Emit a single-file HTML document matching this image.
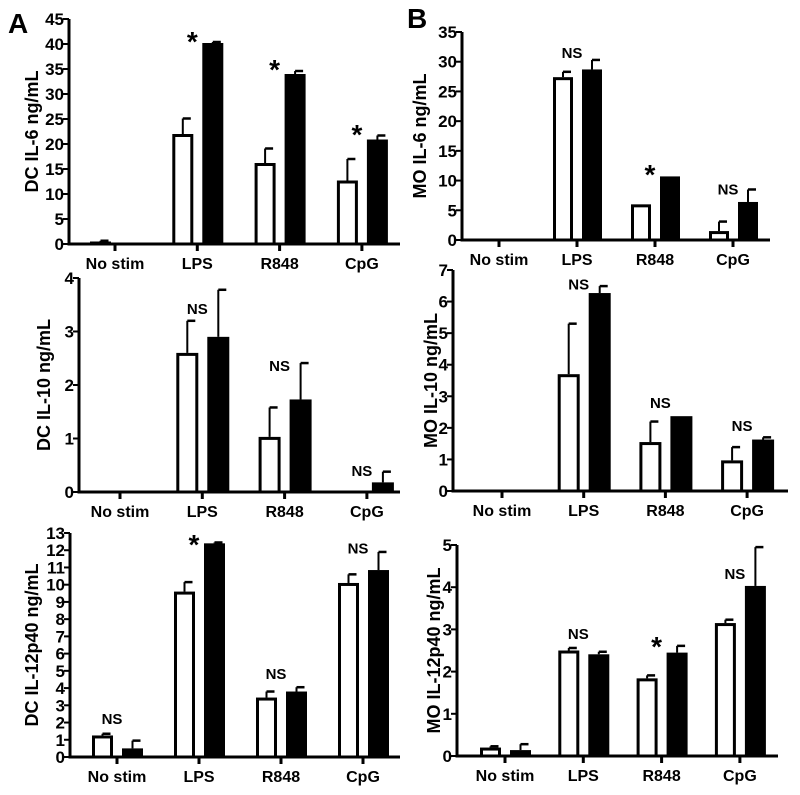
<!DOCTYPE html>
<html><head><meta charset="utf-8"><style>
html,body{margin:0;padding:0;background:#fff;}
svg{display:block;font-family:"Liberation Sans",Arial,sans-serif;}
</style></head><body>
<svg id="chart" width="800" height="795" viewBox="0 0 800 795">
<text x="8" y="33" font-size="28" font-weight="bold">A</text>
<text x="407" y="28" font-size="28" font-weight="bold">B</text>
</svg>
<script>
const categories = ["No stim","LPS","R848","CpG"];
// DC IL-6
const dcIl6White = [0.5,22,16.2,12.7];
const dcIl6WhiteErr = [0.15,3.1,2.9,4.3];
const dcIl6Black = [0,40.2,34,20.9];
const dcIl6BlackErr = [0,0.2,0.6,0.8];
const dcIl6Sig = ["","*","*","*"];
const dcIl6SigLevel = [0,41.4,35.8,22.8];
const dcIl6Ticks = [0,5,10,15,20,25,30,35,40,45];
// DC IL-10
const dcIl10White = [0,2.6,1.03,0];
const dcIl10WhiteErr = [0,0.6,0.55,0];
const dcIl10Black = [0,2.9,1.73,0.18];
const dcIl10BlackErr = [0,0.88,0.68,0.2];
const dcIl10Sig = ["","NS","NS","NS"];
const dcIl10SigLevel = [0,3.44,2.37,0.41];
const dcIl10Ticks = [0,1,2,3,4];
// DC IL-12p40
const dcIl12White = [1.25,9.6,3.45,10.1];
const dcIl12WhiteErr = [0.1,0.55,0.35,0.5];
const dcIl12Black = [0.5,12.4,3.8,10.85];
const dcIl12BlackErr = [0.45,0.05,0.25,1.05];
const dcIl12Sig = ["NS","*","NS","NS"];
const dcIl12SigLevel = [2.27,12.6,4.88,12.15];
const dcIl12Ticks = [0,1,2,3,4,5,6,7,8,9,10,11,12,13];
// MO IL-6
const moIl6White = [0,27.4,6.0,1.5];
const moIl6WhiteErr = [0,0.9,0,1.6];
const moIl6Black = [0,28.7,10.7,6.4];
const moIl6BlackErr = [0,1.6,0,2.1];
const moIl6Sig = ["","NS","*","NS"];
const moIl6SigLevel = [0,31.6,11.8,8.7];
const moIl6Ticks = [0,5,10,15,20,25,30,35];
// MO IL-10
const moIl10White = [0.04,3.7,1.55,0.97];
const moIl10WhiteErr = [0,1.6,0.65,0.42];
const moIl10Black = [0.02,6.27,2.37,1.63];
const moIl10BlackErr = [0,0.22,0,0.07];
const moIl10Sig = ["","NS","NS","NS"];
const moIl10SigLevel = [0,6.58,2.82,2.09];
const moIl10Ticks = [0,1,2,3,4,5,6,7];
// MO IL-12p40
const moIl12White = [0.2,2.5,1.84,3.15];
const moIl12WhiteErr = [0.03,0.06,0.07,0.08];
const moIl12Black = [0.14,2.41,2.45,4.03];
const moIl12BlackErr = [0.14,0.06,0.16,0.92];
const moIl12Sig = ["","NS","*","NS"];
const moIl12SigLevel = [0,2.91,2.7,4.34];
const moIl12Ticks = [0,1,2,3,4,5];

const NS="http://www.w3.org/2000/svg";
const svg=document.getElementById('chart');
function mk(tag,attrs,parent){const e=document.createElementNS(NS,tag);for(const k in attrs)e.setAttribute(k,attrs[k]);(parent||svg).appendChild(e);return e;}

const panels=[
 {id:"dc-il6",title:"DC IL-6 ng/mL",ax:69,top:19,base:244,right:400,cx0:115,step:82.3,bw:21,tx:31,w:dcIl6White,we:dcIl6WhiteErr,b:dcIl6Black,be:dcIl6BlackErr,sig:dcIl6Sig,sl:dcIl6SigLevel,ticks:dcIl6Ticks},
 {id:"dc-il10",title:"DC IL-10 ng/mL",ax:79,top:278,base:492,right:400,cx0:120,step:82.3,bw:22,tx:43,w:dcIl10White,we:dcIl10WhiteErr,b:dcIl10Black,be:dcIl10BlackErr,sig:dcIl10Sig,sl:dcIl10SigLevel,ticks:dcIl10Ticks},
 {id:"dc-il12p40",title:"DC IL-12p40 ng/mL",ax:70,top:533,base:757,right:400,cx0:117,step:82,bw:21,tx:31,w:dcIl12White,we:dcIl12WhiteErr,b:dcIl12Black,be:dcIl12BlackErr,sig:dcIl12Sig,sl:dcIl12SigLevel,ticks:dcIl12Ticks},
 {id:"mo-il6",title:"MO IL-6 ng/mL",ax:462,top:32,base:240,right:770,cx0:499,step:78,bw:20,tx:419,w:moIl6White,we:moIl6WhiteErr,b:moIl6Black,be:moIl6BlackErr,sig:moIl6Sig,sl:moIl6SigLevel,ticks:moIl6Ticks},
 {id:"mo-il10",title:"MO IL-10 ng/mL",ax:453,top:270,base:491,right:788,cx0:502,step:81.7,bw:22,tx:430,w:moIl10White,we:moIl10WhiteErr,b:moIl10Black,be:moIl10BlackErr,sig:moIl10Sig,sl:moIl10SigLevel,ticks:moIl10Ticks},
 {id:"mo-il12p40",title:"MO IL-12p40 ng/mL",ax:457,top:545,base:756,right:778,cx0:505,step:78.3,bw:21,tx:433,w:moIl12White,we:moIl12WhiteErr,b:moIl12Black,be:moIl12BlackErr,sig:moIl12Sig,sl:moIl12SigLevel,ticks:moIl12Ticks}
];

panels.forEach(p=>{
 const g=mk('g',{});
 
 
 const maxT=p.ticks[p.ticks.length-1];
 const y=v=>p.base-(v/maxT)*(p.base-p.top);
 const cx=i=>p.cx0+i*p.step;
 const ya=mk('line',{x1:p.ax,y1:p.top,x2:p.ax,y2:p.base+1.5,stroke:'#000','stroke-width':3},g);
 
 
 p.ticks.forEach(t=>{
  mk('line',{x1:p.ax-6,y1:y(t),x2:p.ax,y2:y(t),stroke:'#000','stroke-width':2},g);
  const tl=mk('text',{x:p.ax-5,y:y(t)+6,'text-anchor':'end','font-size':17,'font-weight':'bold'},g);
  tl.textContent=t;
  
  
 });
 const my=(p.top+p.base)/2;
 const yt=mk('text',{x:p.tx,y:my,'text-anchor':'middle','font-size':18,'font-weight':'bold',transform:`rotate(-90 ${p.tx} ${my})`,dy:7},g);
 yt.textContent=p.title;
 
 
 categories.forEach((c,i)=>{
  const cc=cx(i);
  const wx=cc-p.bw-4, bx=cc+5;
  const wv=p.w[i], bv=p.b[i];
  if(wv>0){
   const we=p.we[i];
   if(we>0){mk('line',{x1:wx+p.bw/2,y1:y(wv),x2:wx+p.bw/2,y2:y(wv+we),stroke:'#000','stroke-width':2},g);
    mk('line',{x1:wx+p.bw/2,y1:y(wv+we),x2:wx+p.bw/2+8,y2:y(wv+we),stroke:'#000','stroke-width':2.5},g);}
   const r=mk('rect',{x:wx+1.5,y:y(wv)+1.5,width:p.bw-3,height:Math.max(0,p.base-y(wv)-1.5),fill:'#fff',stroke:'#000','stroke-width':3},g);
   
   
  }
  if(bv>0){
   const be=p.be[i];
   if(be>0){mk('line',{x1:bx+p.bw/2,y1:y(bv),x2:bx+p.bw/2,y2:y(bv+be),stroke:'#000','stroke-width':2},g);
    mk('line',{x1:bx+p.bw/2,y1:y(bv+be),x2:bx+p.bw/2+8,y2:y(bv+be),stroke:'#000','stroke-width':2.5},g);}
   const r=mk('rect',{x:bx,y:y(bv),width:p.bw,height:p.base-y(bv),fill:'#000'},g);
   
   
  }
  const s=p.sig[i];
  if(s){
   const ly=y(p.sl[i]);
   const st=mk('text',{x:cc-5,y:s==='*'?ly+14:ly+6,'text-anchor':'middle','font-size':s==='*'?28:15,'font-weight':'bold'},g);
   st.textContent=s;
   
   
  }
  mk('line',{x1:cc,y1:p.base,x2:cc,y2:p.base+7,stroke:'#000','stroke-width':3},g);
  const xl=mk('text',{x:cc,y:p.base+25,'text-anchor':'middle','font-size':16,'font-weight':'bold'},g);
  xl.textContent=c;
  
  
 });
 const xa=mk('line',{x1:p.ax-1.5,y1:p.base,x2:p.right,y2:p.base,stroke:'#000','stroke-width':3},g);
 
 
});
</script>
</body></html>
